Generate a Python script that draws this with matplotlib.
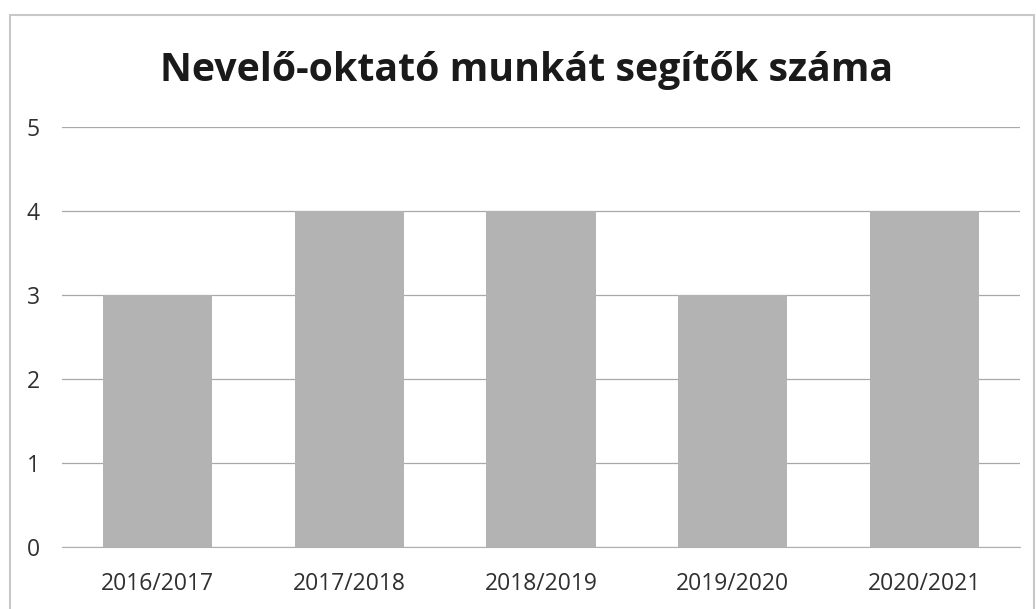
import matplotlib
matplotlib.use("Agg")
import matplotlib.pyplot as plt
from matplotlib.patches import Rectangle

categories = ["2016/2017", "2017/2018", "2018/2019", "2019/2020", "2020/2021"]
values = [3, 4, 4, 3, 4]
yticks = [0, 1, 2, 3, 4, 5]
title = "Nevelő-oktató munkát segítők száma"

plt.rcParams['font.family'] = ['Open Sans', 'DejaVu Sans']

fig = plt.figure(figsize=(10.36, 6.09), dpi=100)
fig.patches.append(Rectangle((10/1036, -0.01), 1 - 12/1036, 1 - 15/609 + 0.01, transform=fig.transFigure,
                             fill=False, edgecolor="#c8c8c8", linewidth=1.5))
ax = fig.add_axes([62/1036, 1 - 547/609, (1020 - 62)/1036, (547 - 127)/609])

x = list(range(len(categories)))
ax.bar(x, values, width=0.57, color="#b3b3b3", zorder=2)
ax.set_xlim(-0.5, len(categories) - 0.5)
ax.set_ylim(0, 5)
ax.set_yticks(yticks)
ax.set_xticks(x)
ax.set_xticklabels(categories)
ax.yaxis.grid(True, color="#a8a8a8", linewidth=0.9, zorder=0)
ax.set_axisbelow(True)
for s in ["top", "right", "left"]:
    ax.spines[s].set_visible(False)
ax.spines["bottom"].set_color("#b0b0b0")
ax.tick_params(axis="both", length=0, labelsize=16.5, colors="#303030")
ax.tick_params(axis="x", pad=18)
ax.tick_params(axis="y", pad=16)

fig.text(526.5/1036, 1 - 70/609, title, ha="center", va="center", fontsize=28.3,
         fontweight="bold", color="#1a1a1a")

fig.savefig("out.png", dpi=100)
